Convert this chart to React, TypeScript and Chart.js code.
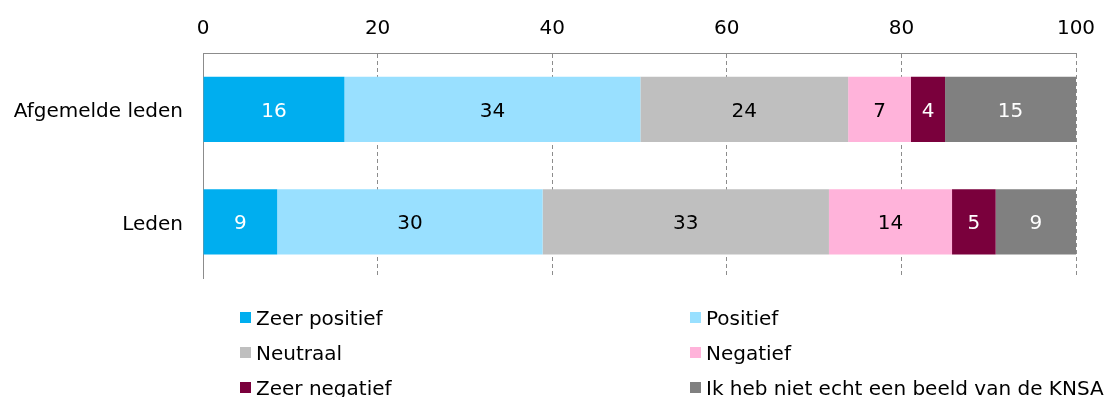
import React, { useEffect, useRef } from 'react';
import { Chart, registerables } from 'chart.js';

Chart.register(...registerables);

const categories = ['Afgemelde leden', 'Leden'];
const seriesNames = [
  'Zeer positief',
  'Positief',
  'Neutraal',
  'Negatief',
  'Zeer negatief',
  'Ik heb niet echt een beeld van de KNSA',
];
const zeerPositief = [16.2, 8.5];
const positief = [33.9, 30.4];
const neutraal = [23.8, 32.8];
const negatief = [7.2, 14.1];
const zeerNegatief = [3.9, 5.0];
const geenBeeld = [15.0, 9.2];
const xTicks = [0, 20, 40, 60, 80, 100];

const seriesValues = [zeerPositief, positief, neutraal, negatief, zeerNegatief, geenBeeld];
const seriesColors = ['#00AEEF', '#99E0FF', '#BFBFBF', '#FFB3DA', '#7A003C', '#808080'];
const labelColors = ['#ffffff', '#000000', '#000000', '#000000', '#ffffff', '#ffffff'];

const FONT = 'DejaVu Sans';
const FS = 20;

const dataLabelPlugin = {
  id: 'dataLabels',
  afterDatasetsDraw(chart: any) {
    const ctx = chart.ctx;
    ctx.save();
    ctx.font = `${FS}px "${FONT}"`;
    ctx.textAlign = 'center';
    ctx.textBaseline = 'alphabetic';
    chart.data.datasets.forEach((ds: any, di: number) => {
      const meta = chart.getDatasetMeta(di);
      meta.data.forEach((el: any, i: number) => {
        const v = ds.data[i];
        const cx = (el.x + el.base) / 2;
        ctx.fillStyle = labelColors[di];
        ctx.fillText(String(Math.round(v)), cx, el.y + 7.3);
      });
    });
    ctx.restore();
  },
};

const legendPlugin = {
  id: 'gridLegend',
  afterDraw(chart: any) {
    const ctx = chart.ctx;
    ctx.save();
    ctx.font = `${FS}px "${FONT}"`;
    ctx.textAlign = 'left';
    ctx.textBaseline = 'alphabetic';
    const colX = [240, 690];
    const rowY = [317.5, 352.5, 387.5];
    seriesNames.forEach((name, i) => {
      const x = colX[i % 2];
      const y = rowY[Math.floor(i / 2)];
      ctx.fillStyle = seriesColors[i];
      ctx.fillRect(x, y - 5.5, 11, 11);
      ctx.fillStyle = '#000000';
      ctx.fillText(name, x + 16, y + 7.3);
    });
    ctx.restore();
  },
};

export default function App() {
  const ref = useRef<HTMLCanvasElement | null>(null);

  useEffect(() => {
    if (!ref.current) return;
    const chart = new Chart(ref.current, {
      type: 'bar',
      data: {
        labels: categories,
        datasets: seriesNames.map((name, i) => ({
          label: name,
          data: seriesValues[i],
          backgroundColor: seriesColors[i],
          borderWidth: 0,
          barPercentage: 0.58,
          categoryPercentage: 1,
        })),
      },
      options: {
        indexAxis: 'y',
        responsive: false,
        animation: false,
        layout: { padding: { left: 0, right: 37, top: 0, bottom: 119 } },
        plugins: {
          legend: { display: false },
          tooltip: { enabled: false },
        },
        scales: {
          x: {
            position: 'top',
            stacked: true,
            min: 0,
            max: 100,
            afterBuildTicks(scale: any) {
              scale.ticks = xTicks.map((v) => ({ value: v }));
            },
            ticks: {
              color: '#000000',
              font: { family: FONT, size: FS },
              padding: 12,
              maxRotation: 0,
            },
            grid: { color: '#8c8c8c', lineWidth: 1, drawTicks: false },
            border: { display: true, color: '#8c8c8c', width: 1, dash: [4, 3] },
            afterFit(scale: any) {
              scale.height = 53;
            },
          },
          y: {
            stacked: true,
            grid: { display: false, drawTicks: false },
            border: { display: true, color: '#8c8c8c', width: 1 },
            ticks: {
              color: '#000000',
              font: { family: FONT, size: FS },
              padding: 20,
              labelOffset: 3,
            },
            afterFit(scale: any) {
              scale.width = 203;
            },
          },
        },
      } as any,
      plugins: [dataLabelPlugin, legendPlugin],
    });
    return () => chart.destroy();
  }, []);

  return (
    <div style={{ position: 'fixed', left: 0, top: 0, width: 1113, height: 397, background: '#fff' }}>
      <canvas ref={ref} width={1113} height={397} style={{ display: 'block' }} />
    </div>
  );
}
